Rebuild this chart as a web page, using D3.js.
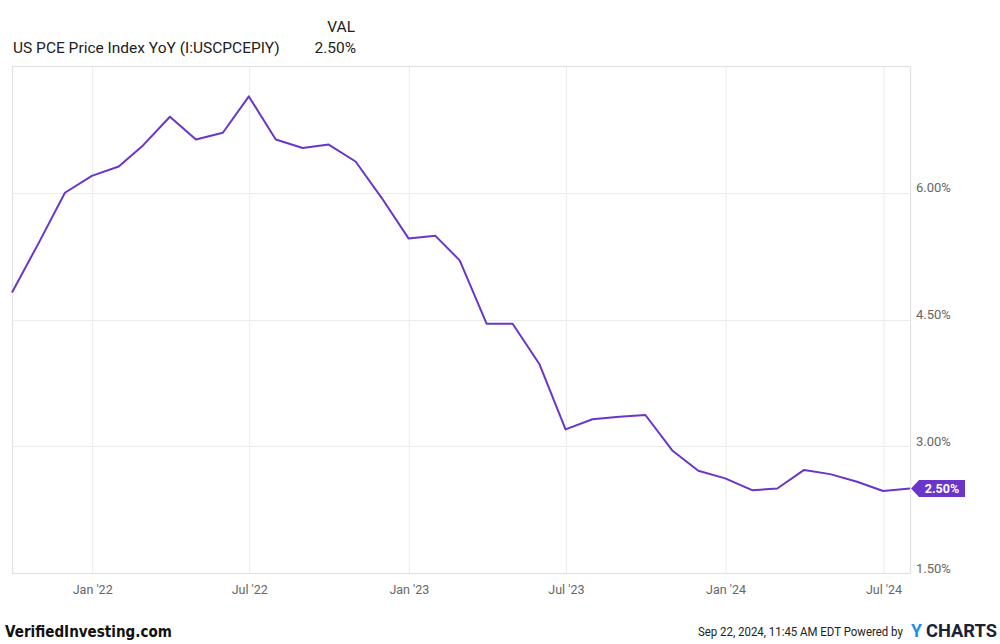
<!DOCTYPE html>
<html>
<head>
<meta charset="utf-8">
<script src="https://cdn.jsdelivr.net/npm/d3@7"></script>
<style>
  html, body { margin: 0; padding: 0; background: #fff; }
  svg { display: block; font-family: Roboto, "Liberation Sans", sans-serif; }
</style>
</head>
<body>
<svg id="chart" width="1000" height="644"></svg>
<script>
// ---- data (monthly, Sep 2021 .. Jul 2024) ----
const startYear = 2021, startMonth = 8; // September 2021 (0-based month)
const values = [4.82, 5.41, 6.00, 6.20, 6.31, 6.56, 6.90, 6.63, 6.71, 7.14,
                6.63, 6.53, 6.57, 6.37, 5.94, 5.46, 5.49, 5.20, 4.45, 4.45,
                3.97, 3.20, 3.32, 3.35, 3.37, 2.95, 2.71, 2.62, 2.48, 2.50,
                2.72, 2.67, 2.58, 2.47, 2.50];
const yTicks = [1.5, 3.0, 4.5, 6.0];
const xTickDates = [[2022,0],[2022,6],[2023,0],[2023,6],[2024,0],[2024,6]];
const seriesName = "US PCE Price Index YoY (I:USCPCEPIY)";
const lastLabel = "2.50%";

// month-end dates
const data = values.map((v, i) => ({ date: new Date(startYear, startMonth + i + 1, 0), value: v }));

const svg = d3.select("#chart");
const L = 12, R = 910, T = 66, B = 573;

const x = d3.scaleTime().domain([data[0].date, data[data.length - 1].date]).range([L, R]);
const y = d3.scaleLinear().domain([1.5, 7.5]).range([B, T]);

const purple = "#6a35c9";
const grid = "#ebebeb";

// gridlines
const xt = xTickDates.map(d => new Date(d[0], d[1], 1));
svg.append("g").selectAll("line").data(xt).join("line")
  .attr("x1", d => x(d)).attr("x2", d => x(d))
  .attr("y1", T).attr("y2", B)
  .attr("stroke", grid).attr("stroke-width", 1);
svg.append("g").selectAll("line").data(yTicks).join("line")
  .attr("x1", L).attr("x2", R)
  .attr("y1", d => Math.round(y(d)) + 0.5).attr("y2", d => Math.round(y(d)) + 0.5)
  .attr("stroke", grid).attr("stroke-width", 1);

// frame
svg.append("rect").attr("x", L + 0.5).attr("y", T + 0.5)
  .attr("width", R - L).attr("height", B - T)
  .attr("fill", "none").attr("stroke", "#e2e2e2").attr("stroke-width", 1.2);

// x axis labels
const fmtX = d => d3.timeFormat("%b")(d) + " '" + d3.timeFormat("%y")(d);
svg.append("g").selectAll("text").data(xt).join("text")
  .attr("x", d => x(d)).attr("y", 594)
  .attr("text-anchor", "middle")
  .attr("font-size", 12.5).attr("fill", "#666")
  .text(fmtX);

// y axis labels
svg.append("g").selectAll("text").data(yTicks).join("text")
  .attr("x", 916).attr("y", d => y(d) - 0.5)
  .attr("font-size", 13).attr("fill", "#666")
  .text(d => d3.format(".2f")(d) + "%");

// line
const line = d3.line().x(d => x(d.date)).y(d => y(d.value));
svg.append("path").datum(data)
  .attr("d", line)
  .attr("fill", "none").attr("stroke", purple)
  .attr("stroke-width", 2).attr("stroke-linejoin", "round");

// last value tag
const last = data[data.length - 1];
const lx = x(last.date) + 1, ly = y(last.value);
svg.append("path")
  .attr("d", `M${lx},${ly} L${lx + 8},${ly - 8.5} L${lx + 54},${ly - 8.5} L${lx + 54},${ly + 8.5} L${lx + 8},${ly + 8.5} Z`)
  .attr("fill", purple);
svg.append("text").attr("x", lx + 31).attr("y", ly + 4.5)
  .attr("text-anchor", "middle").attr("font-size", 12.5).attr("font-weight", "bold")
  .attr("fill", "#fff").text(lastLabel);

// header
svg.append("text").attr("x", 355).attr("y", 32).attr("text-anchor", "end")
  .attr("font-size", 15.5).attr("fill", "#222").text("VAL");
svg.append("text").attr("x", 13).attr("y", 53)
  .attr("font-size", 15.5).attr("fill", "#222").text(seriesName);
svg.append("text").attr("x", 356).attr("y", 53).attr("text-anchor", "end")
  .attr("font-size", 15.5).attr("fill", "#222").text(lastLabel);

// footer: text squeezed horizontally via transform to a target width
function fitText(str, x0, y0, width, size, weight, fill, family) {
  const t = svg.append("text").attr("x", 0).attr("y", 0)
    .attr("font-size", size).attr("font-weight", weight).attr("fill", fill)
    .text(str);
  if (family) t.attr("font-family", family);
  const w = t.node().getComputedTextLength();
  t.attr("transform", `translate(${x0},${y0}) scale(${width / w},1)`);
  return t;
}
fitText("VerifiedInvesting.com", 5, 637, 167, 16.5, "bold", "#111", "'DejaVu Sans', sans-serif");
fitText("Sep 22, 2024, 11:45 AM EDT Powered by", 698, 636, 205, 13, "normal", "#222");
fitText("Y", 911, 637, 11, 18, "bold", "#1e90e8");
fitText("CHARTS", 926, 637, 71, 18, "bold", "#1b2235");
</script>
</body>
</html>
